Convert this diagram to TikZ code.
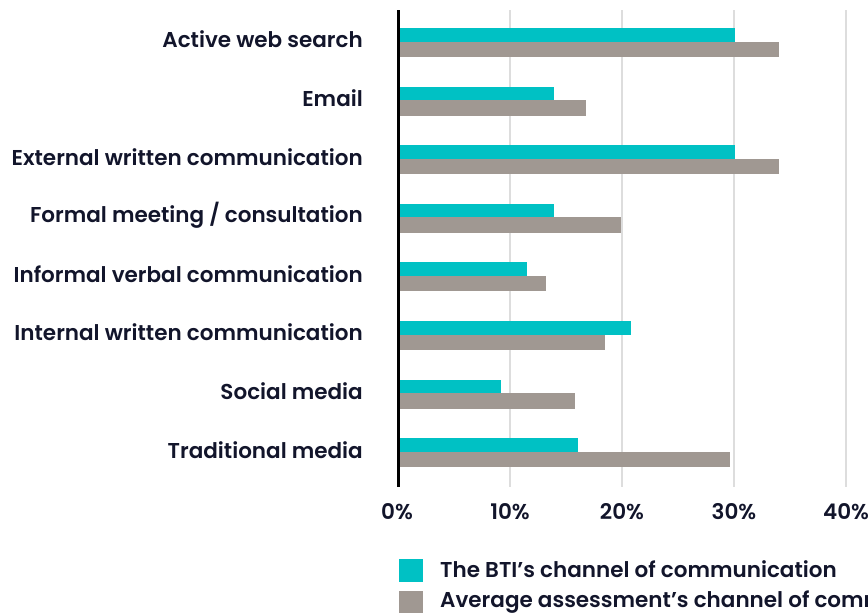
\documentclass[tikz,border=0pt]{standalone}
\usepackage{fontspec}
\setmainfont{Poppins}[BoldFont={* SemiBold}]
\definecolor{teal1}{HTML}{00C1C4}
\definecolor{gray1}{HTML}{A09892}
\definecolor{grid1}{HTML}{DDDDDD}
\definecolor{ink}{HTML}{12152B}
\begin{document}
\begin{tikzpicture}[x=1pt,y=-1pt,
  lab/.style={anchor=east,inner sep=0pt,font=\fontsize{21.5}{23}\selectfont\bfseries,text=ink},
  tick/.style={anchor=center,inner sep=0pt,font=\fontsize{21.5}{23}\selectfont\bfseries,text=ink},
  leg/.style={anchor=west,inner sep=0pt,font=\fontsize{21.5}{23}\selectfont\bfseries,text=ink},
  bteal/.style={fill=teal1,draw=none},
  bgray/.style={fill=gray1,draw=none},
  gridline/.style={draw=grid1,line width=2.5pt}]
\useasboundingbox (0,0) rectangle (868,613);
\clip (0,0) rectangle (868,613);
% grid
\foreach \p in {1,2,3,4} \draw[gridline] ({398+112*\p},10) -- ({398+112*\p},487);
% bars: teal value, gray value, row index
\foreach \t/\g/\i/\name in {30.1/34.0/0/{Active web search},13.9/16.8/1/{Email},30.1/34.0/2/{External written communication},13.9/19.9/3/{Formal meeting / consultation},11.5/13.2/4/{Informal verbal communication},20.8/18.5/5/{Internal written communication},9.2/15.8/6/{Social media},16.1/29.6/7/{Traditional media}}{
  \fill[bteal] (398,{28+58.6*\i}) rectangle ({398+11.2*\t},{41.5+58.6*\i});
  \fill[bgray] (398,{41.5+58.6*\i}) rectangle ({398+11.2*\g},{57+58.6*\i});
  \node[lab] (l\i) at (363,{39.5+58.6*\i}) {\name};
}
% axis
\draw[black,line width=3pt] (398,10) -- (398,487);
% tick labels
\node[tick] (t0) at (397,512) {0\%};
\foreach \p in {1,2,3,4} \node[tick] (t\p) at ({398+112*\p},512) {\p0\%};
% legend
\fill[teal1] (399,559) rectangle (423,582);
\fill[gray1] (399,591) rectangle (423,614);
\node[leg] (lg1) at (440,569) {The BTI’s channel of communication};
\node[leg] (lg2) at (440,602) {Average assessment’s channel of communication};
\end{tikzpicture}
\end{document}
